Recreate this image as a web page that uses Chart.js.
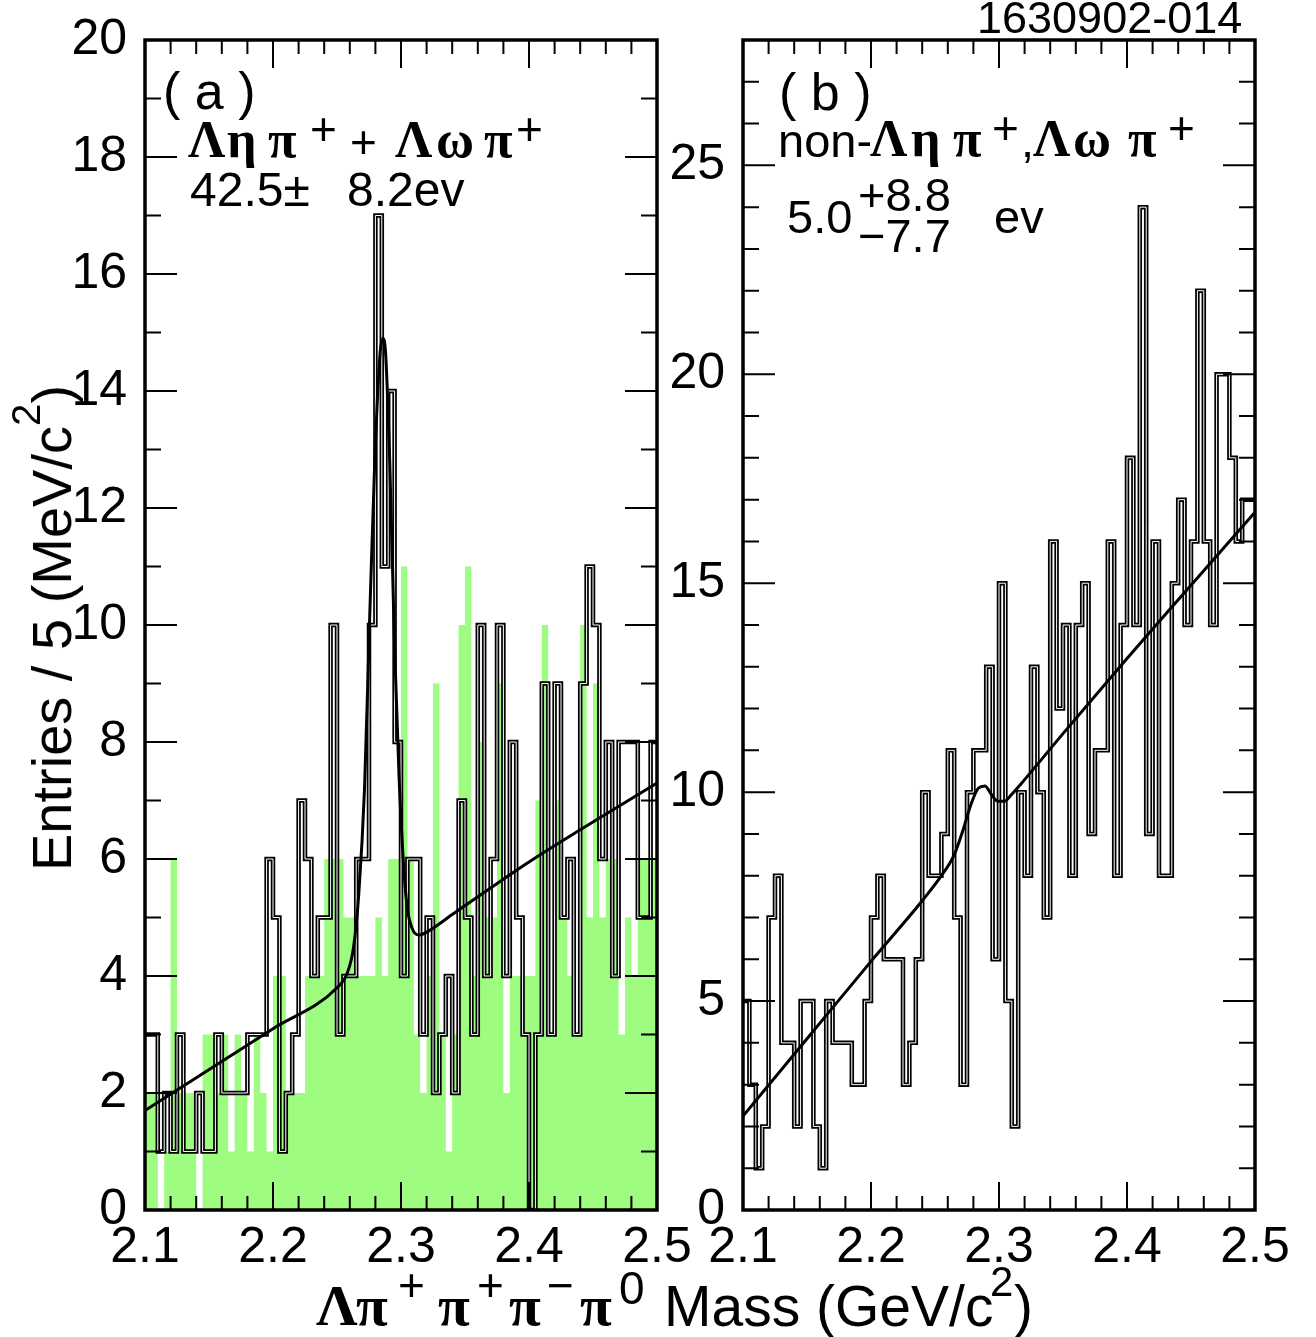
<!DOCTYPE html>
<html>
<head>
<meta charset="utf-8">
<title>Lambda pi+ pi+ pi- pi0 mass</title>
<script src="https://cdn.jsdelivr.net/npm/chart.js@4.4.1/dist/chart.umd.min.js"></script>
<style>
  html, body { margin: 0; padding: 0; background: #fff; }
  body { position: relative; width: 1316px; height: 1337px; overflow: hidden;
         font-family: "Liberation Sans", Arial, Helvetica, sans-serif; color: #000; }
  canvas { position: absolute; left: 0; top: 0; }
  .txt { position: absolute; white-space: nowrap; line-height: 1; }
  .gk { font-family: "Liberation Serif", "DejaVu Serif", serif; font-weight: bold; }
  sup { font-size: 0.72em; vertical-align: 0; position: relative; top: -0.78em; line-height: 0; }
</style>
</head>
<body>
<canvas id="chartA" width="1316" height="1337"></canvas>
<canvas id="chartB" width="1316" height="1337"></canvas>

<div class="txt" style="left:52px;top:628px;font-size:56px;transform:translate(-50%,-50%) rotate(-90deg)">Entries / 5 (MeV/c<sup>2</sup>)</div>

<script>
// histogram binning: 5 MeV bins from 2.1 to 2.5 GeV
const massMin = 2.1;
const massMax = 2.5;
const binWidth = 0.005;

// (a) signal-region histogram (black outline)
const countsA = [
  3, 3, 1, 2, 1, 3, 1, 1, 2, 1, 1, 3, 2, 2, 2, 2, 3, 3, 3, 6,
  5, 1, 2, 3, 7, 6, 4, 5, 5, 10, 3, 4, 4, 6, 6, 10, 17, 11, 14, 8,
  4, 6, 6, 3, 5, 2, 3, 4, 2, 7, 5, 3, 10, 4, 6, 10, 4, 8, 5, 3,
  0, 3, 9, 3, 9, 5, 6, 3, 9, 11, 10, 6, 8, 4, 8, 8, 8, 5, 5, 8
];
// (a) sideband histogram (green fill)
const sidebandA = [
  2, 2, 0, 1, 6, 2, 2, 2, 0, 3, 3, 2, 3, 1, 3, 2, 1, 3, 2, 1,
  4, 4, 2, 2, 2, 4, 4, 4, 6, 6, 6, 5, 5, 4, 4, 4, 5, 4, 6, 6,
  11, 6, 3, 2, 4, 9, 3, 1, 3, 10, 11, 4, 8, 5, 5, 9, 2, 4, 4, 4,
  4, 7, 10, 3, 7, 5, 4, 3, 10, 5, 9, 5, 6, 6, 3, 5, 4, 6, 6, 6
];
// (b) histogram (black outline)
const countsB = [
  5, 3, 1, 2, 7, 8, 4, 4, 2, 5, 5, 2, 1, 5, 4, 4, 4, 3, 3, 5,
  7, 8, 6, 6, 6, 3, 4, 6, 10, 8, 8, 9, 11, 7, 3, 10, 11, 11, 13, 6,
  15, 5, 2, 10, 8, 13, 10, 7, 16, 12, 14, 8, 14, 15, 9, 11, 11, 16, 8, 14,
  18, 14, 24, 9, 16, 8, 8, 15, 17, 14, 16, 22, 16, 14, 20, 20, 18, 16, 17, 17
];

// fit curves: [mass, entries]
const fitA = [
  [2.100, 1.70], [2.200, 3.10], [2.250, 3.80], [2.258, 4.05], [2.263, 4.50],
  [2.267, 5.40], [2.2715, 7.20], [2.2755, 10.1], [2.2795, 12.8], [2.2835, 14.6],
  [2.2858, 14.9], [2.2878, 14.7], [2.2912, 12.8], [2.295, 9.6], [2.2985, 7.4],
  [2.302, 5.9], [2.305, 5.15], [2.309, 4.80], [2.314, 4.70], [2.320, 4.75],
  [2.340, 5.05], [2.400, 5.95], [2.500, 7.30]
];
const fitB = [
  [2.100, 2.25], [2.150, 4.10], [2.200, 5.95], [2.240, 7.40], [2.255, 8.00],
  [2.265, 8.50], [2.272, 9.10], [2.278, 9.70], [2.284, 10.10], [2.289, 10.15],
  [2.294, 9.95], [2.299, 9.78], [2.304, 9.78], [2.310, 9.95], [2.320, 10.3],
  [2.350, 11.4], [2.400, 13.2], [2.450, 14.95], [2.500, 16.7]
];

const xTickLabels = ['2.1', '2.2', '2.3', '2.4', '2.5'];

// text pieces: [text, left, baseline, size, style]  (s = sans, g = bold serif greek)
const textPieces = [
  ['1630902-014', 977, 33, 45, 's'],
  ['( a )', 163, 109, 52, 's'],
  ['Λ', 188, 158, 52, 'g'], ['η', 227, 158, 52, 'g'], ['π', 268, 158, 52, 'g'],
  ['+', 310, 145, 46, 's'], ['+', 350, 158, 46, 's'],
  ['Λ', 395, 158, 52, 'g'], ['ω', 436, 158, 52, 'g'], ['π', 484, 158, 52, 'g'],
  ['+', 516, 145, 46, 's'],
  ['42.5±', 190, 207, 48, 's'], ['8.2ev', 347, 207, 48, 's'],
  ['( b )', 779, 110, 52, 's'],
  ['non-', 778, 157, 47, 's'],
  ['Λ', 870, 157, 52, 'g'], ['η', 911, 157, 52, 'g'], ['π', 953, 157, 52, 'g'],
  ['+', 992, 144, 46, 's'], [',', 1021, 157, 47, 's'],
  ['Λ', 1033, 157, 52, 'g'], ['ω', 1073, 157, 52, 'g'], ['π', 1128, 157, 52, 'g'],
  ['+', 1168, 144, 46, 's'],
  ['5.0', 787, 233, 47, 's'], ['+8.8', 858, 211, 47, 's'], ['−7.7', 858, 252, 47, 's'],
  ['ev', 994, 233, 47, 's'],
  // x axis title
  ['Λ', 316, 1326, 58, 'g'], ['π', 356, 1326, 58, 'g'], ['+', 398, 1301, 46, 's'],
  ['π', 438, 1326, 58, 'g'], ['+', 477, 1301, 46, 's'],
  ['π', 509, 1326, 58, 'g'], ['−', 547, 1301, 46, 's'],
  ['π', 580, 1326, 58, 'g'], ['0', 619, 1304, 46, 's'],
  ['Mass (GeV/c', 664, 1326, 57, 's'], ['2', 990, 1297, 42, 's'], [')', 1014, 1326, 57, 's']
];

textPieces.forEach(([t, left, base, size, kind]) => {
  const d = document.createElement('div');
  d.className = kind === 'g' ? 'txt gk' : 'txt';
  d.textContent = t;
  d.style.fontSize = size + 'px';
  d.style.left = left + 'px';
  d.style.top = (base - (kind === 'g' ? 0.8375 : 0.8465) * size) + 'px';
  document.body.appendChild(d);
});

function histPoints(counts) {
  const pts = counts.map((c, i) => ({ x: massMin + i * binWidth, y: c }));
  pts.push({ x: massMax, y: counts[counts.length - 1] });
  return pts;
}
const curvePoints = arr => arr.map(p => ({ x: p[0], y: p[1] }));

// inward ticks on all four sides plus the frame
const frameTicks = {
  id: 'frameTicks',
  afterDatasetsDraw(chart, args, o) {
    const { ctx, chartArea: a } = chart;
    const xs = chart.scales.x, ys = chart.scales.y;
    ctx.save();
    ctx.strokeStyle = '#000';
    ctx.lineWidth = 2;
    ctx.beginPath();
    for (let i = 0; i <= 20; i++) {
      const px = xs.getPixelForValue(massMin + i * 0.02);
      const len = i % 5 === 0 ? 28 : 14;
      ctx.moveTo(px, a.bottom); ctx.lineTo(px, a.bottom - len);
      ctx.moveTo(px, a.top); ctx.lineTo(px, a.top + len);
    }
    for (let v = 0; v <= o.yMax; v++) {
      const py = ys.getPixelForValue(v);
      const len = v % o.major === 0 ? 32 : 16;
      ctx.moveTo(a.left, py); ctx.lineTo(a.left + len, py);
      ctx.moveTo(a.right, py); ctx.lineTo(a.right - len, py);
    }
    ctx.stroke();
    ctx.lineWidth = 3.5;
    ctx.strokeRect(a.left, a.top, a.right - a.left, a.bottom - a.top);
    ctx.restore();
  }
};

const tickFont = { family: '"Liberation Sans", Arial, sans-serif', size: 50 };

function makeChart(id, opts) {
  const datasets = [];
  if (opts.sideband) {
    datasets.push({
      data: histPoints(opts.sideband), stepped: 'before', fill: 'origin',
      backgroundColor: '#9efc80', borderWidth: 0, pointRadius: 0, order: 4
    });
  }
  datasets.push({
    data: histPoints(opts.counts), stepped: 'before', fill: false,
    borderColor: '#000', borderWidth: 4.5, pointRadius: 0, order: 3
  });
  datasets.push({
    data: histPoints(opts.counts), stepped: 'before', fill: false,
    borderColor: '#fff', borderWidth: 1.0, pointRadius: 0, order: 2
  });
  datasets.push({
    data: curvePoints(opts.fit), fill: false, cubicInterpolationMode: 'monotone',
    borderColor: '#000', borderWidth: 3, pointRadius: 0, order: 1
  });

  return new Chart(document.getElementById(id), {
    type: 'line',
    data: { datasets },
    plugins: [frameTicks],
    options: {
      responsive: false,
      animation: false,
      devicePixelRatio: 1,
      layout: { padding: opts.padding },
      plugins: {
        legend: { display: false },
        tooltip: { enabled: false },
        frameTicks: { yMax: opts.yMax, major: opts.major }
      },
      scales: {
        x: {
          type: 'linear', min: massMin, max: massMax,
          grid: { display: false }, border: { display: false },
          afterFit: s => { s.height = 127; },
          ticks: {
            stepSize: 0.1, maxRotation: 0, autoSkip: false, padding: 0,
            color: '#000', font: tickFont,
            callback: v => {
              const lab = v.toFixed(1);
              return xTickLabels.includes(lab) ? lab : '';
            }
          }
        },
        y: {
          type: 'linear', min: 0, max: opts.yMax,
          grid: { display: false }, border: { display: false },
          afterFit: s => { s.width = opts.yWidth; },
          ticks: {
            stepSize: opts.labelStep, includeBounds: false, padding: 10,
            color: '#000', font: tickFont,
            callback: v => (v % opts.labelStep === 0 ? v : '')
          }
        }
      }
    }
  });
}

makeChart('chartA', {
  counts: countsA, sideband: sidebandA, fit: fitA,
  yMax: 20, major: 2, labelStep: 2, yWidth: 145,
  padding: { left: 0, right: 659, top: 40, bottom: 0 }
});
makeChart('chartB', {
  counts: countsB, fit: fitB,
  yMax: 28, major: 5, labelStep: 5, yWidth: 100,
  padding: { left: 643, right: 61, top: 40, bottom: 0 }
});
</script>
</body>
</html>
